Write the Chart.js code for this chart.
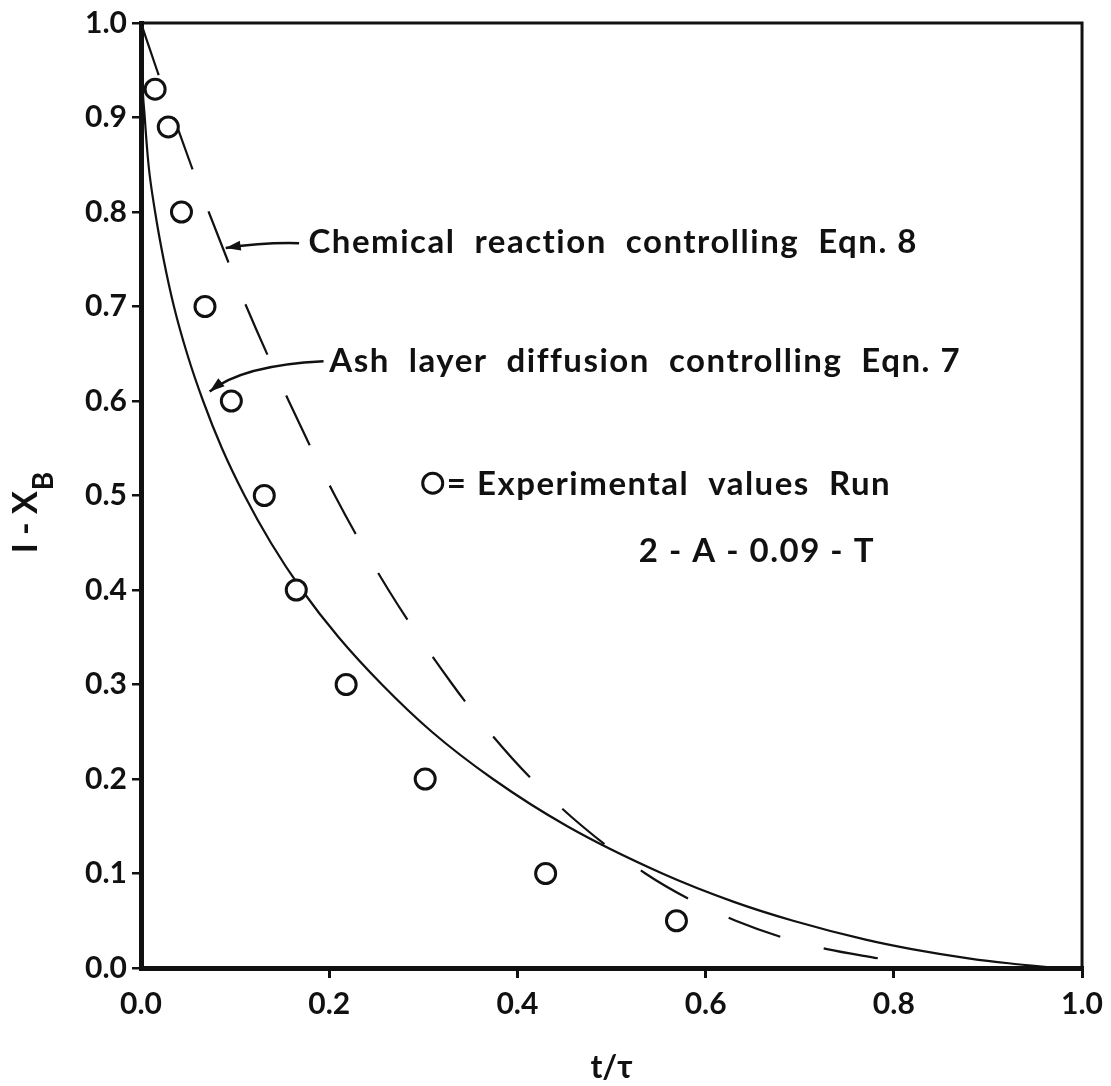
<!DOCTYPE html>
<html>
<head>
<meta charset="utf-8">
<script src="https://cdn.jsdelivr.net/npm/chart.js@4.4.1/dist/chart.umd.min.js"></script>
<style>
  body { margin: 0; background: #fff; }
  canvas { display: block; }
</style>
</head>
<body>
<canvas id="myChart" width="1111" height="1086"></canvas>
<script>
// experimental values, run 2-A-0.09-T
const expX = [0.015, 0.029, 0.043, 0.068, 0.096, 0.131, 0.165, 0.218, 0.302, 0.430, 0.569]
const expY = [0.93, 0.89, 0.80, 0.70, 0.60, 0.50, 0.40, 0.30, 0.20, 0.10, 0.05]

// ash layer diffusion controlling, Eqn. 7 (solid line)
const ashX = [0.0, 0.001, 0.004, 0.008, 0.015, 0.024, 0.035, 0.049, 0.066, 0.086, 0.110, 0.138, 0.171,
  0.210, 0.256, 0.309, 0.374, 0.453, 0.554, 0.630, 0.693, 0.770, 0.819, 0.881, 0.922, 0.975]
const ashY = [1.0, 0.95, 0.90, 0.85, 0.80, 0.75, 0.70, 0.65, 0.60, 0.55, 0.50, 0.45, 0.40,
  0.35, 0.30, 0.25, 0.20, 0.15, 0.10, 0.07, 0.05, 0.03, 0.02, 0.01, 0.005, 0.0]

// chemical reaction controlling, Eqn. 8 (dashed line)
const rxnX = [0.0, 0.017, 0.035, 0.053, 0.072, 0.112, 0.157, 0.206, 0.263, 0.331, 0.370, 0.415,
  0.469, 0.536, 0.588, 0.632, 0.689, 0.729, 0.785]
const rxnY = [1.0, 0.95, 0.90, 0.85, 0.80, 0.70, 0.60, 0.50, 0.40, 0.30, 0.25, 0.20,
  0.15, 0.10, 0.07, 0.05, 0.03, 0.02, 0.01]

const xTicks = [0.0, 0.2, 0.4, 0.6, 0.8, 1.0]
const yTicks = [0.0, 0.1, 0.2, 0.3, 0.4, 0.5, 0.6, 0.7, 0.8, 0.9, 1.0]

const ink = '#111'
const fontFamily = 'Lato, "Noto Sans", sans-serif'

const toPoints = (xs, ys) => xs.map((x, i) => ({ x: x, y: ys[i] }))

// arrow from a point to its tip through a control point, all in data units
const drawArrow = (ctx, x, y, from, ctrl, tip) => {
  const p0 = [x.getPixelForValue(from[0]), y.getPixelForValue(from[1])]
  const c = [x.getPixelForValue(ctrl[0]), y.getPixelForValue(ctrl[1])]
  const p1 = [x.getPixelForValue(tip[0]), y.getPixelForValue(tip[1])]
  ctx.lineWidth = 2.5
  ctx.beginPath()
  ctx.moveTo(p0[0], p0[1])
  ctx.quadraticCurveTo(c[0], c[1], p1[0], p1[1])
  ctx.stroke()
  const ang = Math.atan2(p1[1] - c[1], p1[0] - c[0])
  const len = 15, half = 5
  ctx.beginPath()
  ctx.moveTo(p1[0], p1[1])
  ctx.lineTo(p1[0] - len * Math.cos(ang) + half * Math.sin(ang), p1[1] - len * Math.sin(ang) - half * Math.cos(ang))
  ctx.lineTo(p1[0] - len * Math.cos(ang) - half * Math.sin(ang), p1[1] - len * Math.sin(ang) + half * Math.cos(ang))
  ctx.closePath()
  ctx.fill()
}

const notes = {
  id: 'notes',
  afterDraw(chart) {
    const { ctx, chartArea: a, scales: { x, y } } = chart
    ctx.save()
    ctx.strokeStyle = ink
    ctx.fillStyle = ink

    // top and right side of the frame
    ctx.lineWidth = 3
    ctx.beginPath()
    ctx.moveTo(a.left, a.top)
    ctx.lineTo(a.right, a.top)
    ctx.lineTo(a.right, a.bottom)
    ctx.stroke()

    // labels inside the plot
    ctx.font = 'bold 33px ' + fontFamily
    ctx.letterSpacing = '1.5px'
    ctx.textAlign = 'left'
    ctx.textBaseline = 'alphabetic'
    ctx.fillText('Chemical  reaction  controlling  Eqn. 8', x.getPixelForValue(0.178), y.getPixelForValue(0.757))
    ctx.fillText('Ash  layer  diffusion  controlling  Eqn. 7', x.getPixelForValue(0.200), y.getPixelForValue(0.631))
    ctx.fillText('= Experimental  values  Run', x.getPixelForValue(0.325), y.getPixelForValue(0.5005))
    ctx.fillText('2 - A - 0.09 - T', x.getPixelForValue(0.529), y.getPixelForValue(0.430))
    ctx.letterSpacing = '0px'

    // little circle in front of "= Experimental"
    ctx.lineWidth = 3
    ctx.beginPath()
    ctx.arc(x.getPixelForValue(0.310), y.getPixelForValue(0.513), 10, 0, Math.PI * 2)
    ctx.stroke()

    drawArrow(ctx, x, y, [0.168, 0.767], [0.13, 0.768], [0.090, 0.762])
    drawArrow(ctx, x, y, [0.194, 0.642], [0.1085, 0.638], [0.073, 0.610])

    // x axis title
    ctx.font = 'bold 32px ' + fontFamily
    ctx.textAlign = 'center'
    ctx.textBaseline = 'middle'
    ctx.fillText('t/τ', (a.left + a.right) / 2, 1068)

    // y axis title, rotated, with subscript B
    ctx.translate(33, 513)
    ctx.rotate(-Math.PI / 2)
    ctx.textAlign = 'left'
    ctx.textBaseline = 'alphabetic'
    ctx.font = 'bold 34px ' + fontFamily
    const main = 'I - X'
    const w = ctx.measureText(main).width
    ctx.font = 'bold 28px ' + fontFamily
    const wb = ctx.measureText('B').width
    const start = -(w + wb) / 2
    ctx.font = 'bold 34px ' + fontFamily
    ctx.fillText(main, start, 4)
    ctx.font = 'bold 28px ' + fontFamily
    ctx.fillText('B', start + w + 1, 20)
    ctx.restore()
  }
}

const ctx = document.getElementById('myChart').getContext('2d')
const chart = new Chart(ctx, {
  type: 'scatter',
  data: {
    datasets: [
      {
        label: 'Experimental values',
        data: toPoints(expX, expY),
        showLine: false,
        pointStyle: 'circle',
        pointRadius: 10,
        pointBorderWidth: 3,
        pointBackgroundColor: '#fff',
        pointBorderColor: ink,
        order: 0
      },
      {
        label: 'Ash layer diffusion controlling Eqn. 7',
        data: toPoints(ashX, ashY),
        showLine: true,
        borderColor: ink,
        borderWidth: 2.2,
        pointRadius: 0,
        cubicInterpolationMode: 'monotone',
        order: 1
      },
      {
        label: 'Chemical reaction controlling Eqn. 8',
        data: toPoints(rxnX, rxnY),
        showLine: true,
        borderColor: ink,
        borderWidth: 2.2,
        borderDash: [55, 45],
        pointRadius: 0,
        cubicInterpolationMode: 'monotone',
        order: 2
      }
    ]
  },
  options: {
    responsive: false,
    animation: false,
    layout: { padding: { top: 23, right: 23, left: 0, bottom: 0 } },
    plugins: { legend: { display: false }, tooltip: { enabled: false } },
    scales: {
      x: {
        type: 'linear',
        min: 0,
        max: 1,
        afterFit: s => { s.height = 118 },
        afterBuildTicks: s => { s.ticks = xTicks.map(v => ({ value: v })) },
        grid: {
          drawOnChartArea: false,
          drawTicks: true,
          tickLength: 10,
          lineWidth: 3,
          color: c => (c.tick && c.tick.value === 0 ? 'rgba(0,0,0,0)' : ink)
        },
        border: { display: true, color: ink, width: 5 },
        ticks: {
          padding: 8,
          color: ink,
          maxRotation: 0,
          font: { family: fontFamily, size: 30, weight: 'bold' },
          callback: v => v.toFixed(1)
        }
      },
      y: {
        type: 'linear',
        min: 0,
        max: 1,
        afterFit: s => { s.width = 141 },
        afterBuildTicks: s => { s.ticks = yTicks.map(v => ({ value: v })) },
        grid: {
          drawOnChartArea: false,
          drawTicks: true,
          tickLength: 9,
          lineWidth: 2.5,
          color: ink
        },
        border: { display: true, color: ink, width: 5 },
        ticks: {
          padding: 5,
          color: ink,
          font: { family: fontFamily, size: 30, weight: 'bold' },
          callback: v => v.toFixed(1)
        }
      }
    }
  },
  plugins: [notes]
})
</script>
</body>
</html>
